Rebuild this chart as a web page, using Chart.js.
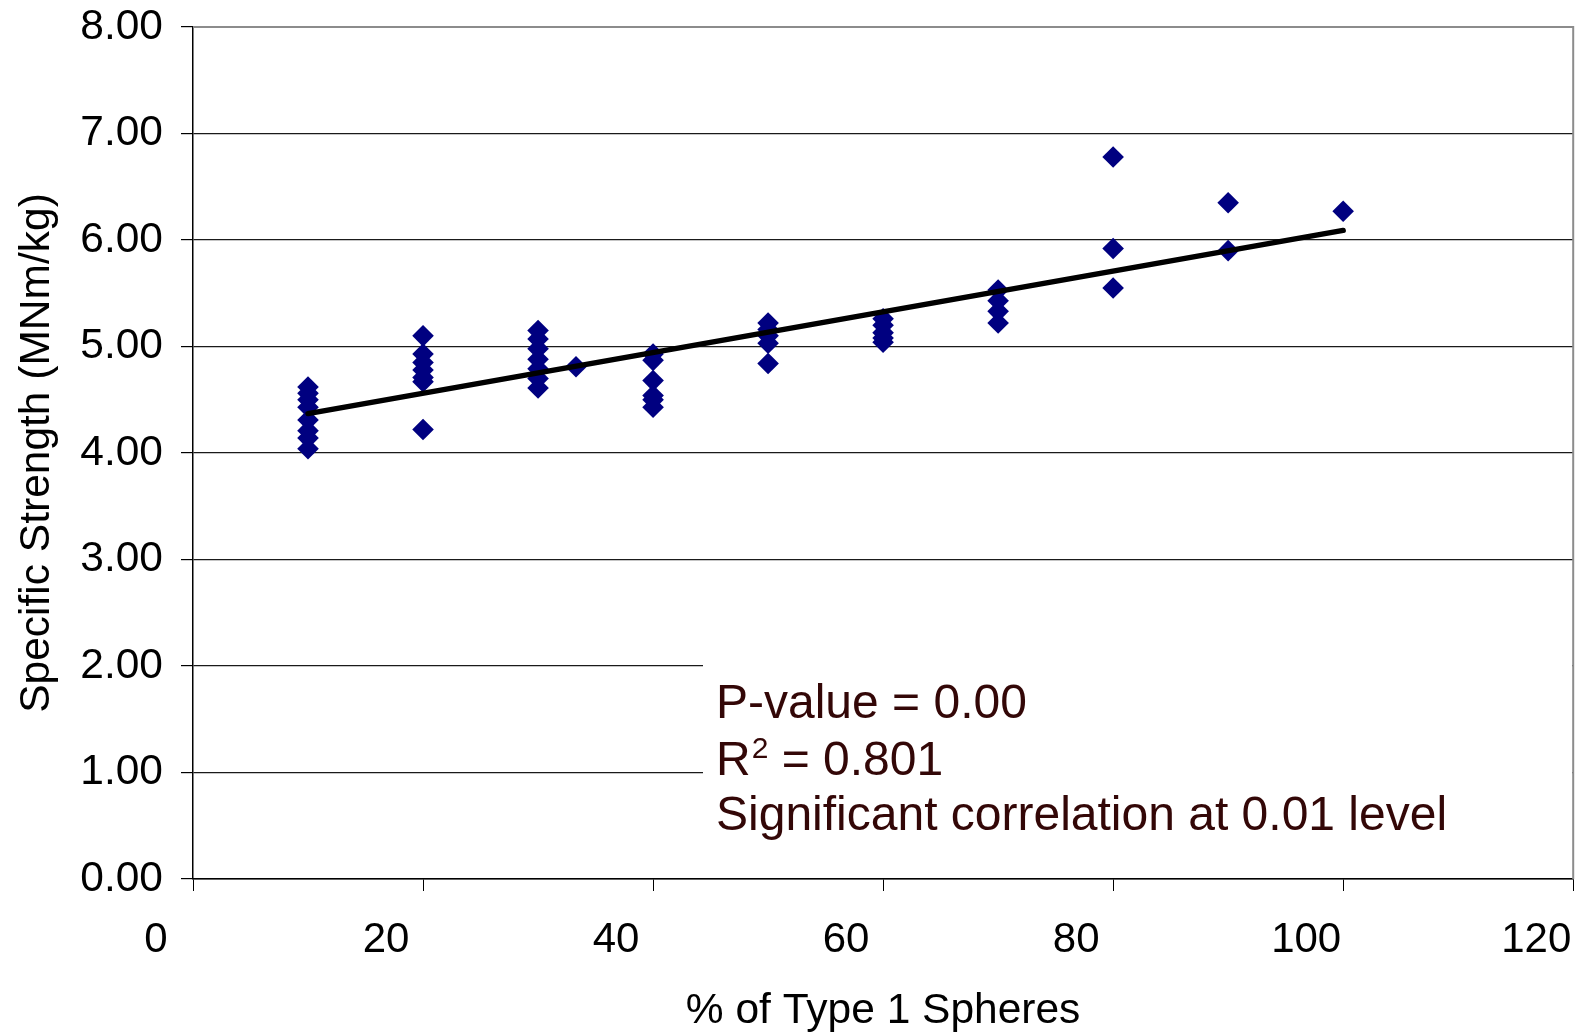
<!DOCTYPE html>
<html>
<head>
<meta charset="utf-8">
<title>Specific Strength vs % of Type 1 Spheres</title>
<script src="https://cdn.jsdelivr.net/npm/chart.js@4.4.1/dist/chart.umd.min.js"></script>
<style>
  html, body { margin: 0; padding: 0; background: #fff; overflow: hidden; }
  #wrap { width: 1584px; height: 1034px; position: relative; }
  #chart { display: block; }
</style>
</head>
<body>
<div id="wrap"><canvas id="chart"></canvas></div>
<script>
// % of type 1 spheres for each specimen, and its specific strength
const pctType1 = [
  10, 10, 10, 10, 10, 10, 10, 10,
  20, 20, 20, 20, 20, 20, 20,
  30, 30, 30, 30, 30, 30, 30,
  33.3,
  40, 40, 40, 40, 40, 40,
  50, 50, 50, 50, 50,
  60, 60, 60, 60, 60,
  70, 70, 70, 70,
  80, 80, 80,
  90, 90,
  100
];
const strength = [
  4.62, 4.56, 4.50, 4.43, 4.31, 4.21, 4.14, 4.04,
  5.10, 4.93, 4.85, 4.78, 4.71, 4.67, 4.22,
  5.15, 5.07, 4.98, 4.88, 4.79, 4.70, 4.61,
  4.81,
  4.93, 4.87, 4.68, 4.54, 4.50, 4.43,
  5.22, 5.16, 5.10, 5.03, 4.84,
  5.26, 5.20, 5.13, 5.08, 5.04,
  5.53, 5.43, 5.33, 5.22,
  6.78, 5.92, 5.55,
  6.35, 5.90,
  6.27
];

// linear trend line end points
const trendX = [10, 100];
const trendY = [4.37, 6.09];

const xTicks = [0, 20, 40, 60, 80, 100, 120];
const yTicks = [0, 1, 2, 3, 4, 5, 6, 7, 8];

const statsLines = ['P-value = 0.00', 'R', 'Significant correlation at 0.01 level'];

const FONT = "'Liberation Sans', Arial, sans-serif";

// white box with the statistics, plus the grey frame on top / right
const statsBox = {
  id: 'statsBox',
  beforeDatasetsDraw(chart) {
    const { ctx, chartArea } = chart;
    ctx.save();
    ctx.fillStyle = '#fff';
    ctx.fillRect(703, 625, chartArea.right - 703 - 1, chartArea.bottom - 625 - 2);

    // plot frame
    ctx.strokeStyle = '#8c8c8c';
    ctx.lineWidth = 2;
    ctx.beginPath();
    ctx.moveTo(chartArea.left, chartArea.top);
    ctx.lineTo(chartArea.right, chartArea.top);
    ctx.lineTo(chartArea.right, chartArea.bottom);
    ctx.stroke();

    ctx.fillStyle = '#330707';
    ctx.textBaseline = 'alphabetic';
    ctx.textAlign = 'left';
    ctx.font = '48px ' + FONT;
    const x0 = 716;
    ctx.fillText(statsLines[0], x0, 718);

    // R² with a raised small 2
    ctx.fillText(statsLines[1], x0, 775);
    let w = ctx.measureText(statsLines[1]).width;
    ctx.font = '30px ' + FONT;
    ctx.fillText('2', x0 + w + 1, 758);
    w += ctx.measureText('2').width + 1;
    ctx.font = '48px ' + FONT;
    ctx.fillText(' = 0.801', x0 + w, 775);

    ctx.fillText(statsLines[2], x0, 830);
    ctx.restore();
  }
};

new Chart(document.getElementById('chart'), {
  type: 'scatter',
  data: {
    datasets: [
      {
        label: 'Specific strength',
        data: pctType1.map((x, i) => ({ x: x, y: strength[i] })),
        pointStyle: 'rectRot',
        pointRadius: 10.8,
        pointHoverRadius: 10.8,
        backgroundColor: '#000080',
        borderColor: '#000080',
        borderWidth: 0,
        order: 2
      },
      {
        type: 'line',
        label: 'Linear trend',
        data: trendX.map((x, i) => ({ x: x, y: trendY[i] })),
        borderColor: '#000',
        borderWidth: 5.5,
        borderCapStyle: 'round',
        pointRadius: 0,
        fill: false,
        order: 1
      }
    ]
  },
  options: {
    responsive: true,
    maintainAspectRatio: false,
    animation: false,
    layout: { padding: { top: 27, right: 0, left: 0, bottom: 0 } },
    plugins: {
      legend: { display: false },
      tooltip: { enabled: false }
    },
    scales: {
      x: {
        type: 'linear',
        min: 0,
        max: 120,
        afterBuildTicks: (scale) => { scale.ticks = xTicks.map(v => ({ value: v })); },
        afterFit: (scale) => {
          scale.height = 155;
          scale.paddingLeft = 0;
          scale.paddingRight = 0;
        },
        border: { color: '#000', width: 1.5 },
        grid: { drawOnChartArea: false, drawTicks: true, tickLength: 12, color: '#000' },
        ticks: {
          color: '#000',
          font: { family: FONT, size: 42 },
          padding: 24,
          labelOffset: -37,
          maxRotation: 0,
          autoSkip: false
        },
        title: {
          display: true,
          text: '% of Type 1 Spheres',
          color: '#000',
          font: { family: FONT, size: 42.5, lineHeight: 1.05 },
          padding: { top: 0, bottom: 0 }
        }
      },
      y: {
        type: 'linear',
        min: 0,
        max: 8,
        afterBuildTicks: (scale) => { scale.ticks = yTicks.map(v => ({ value: v })); },
        afterFit: (scale) => {
          scale.width = 193;
          scale.paddingTop = 0;
          scale.paddingBottom = 0;
        },
        border: { color: '#000', width: 1.5 },
        grid: {
          color: (c) => (c.tick && c.tick.value === 8 ? 'rgba(0,0,0,0)' : '#1a1a1a'),
          tickColor: '#000',
          lineWidth: 1.2,
          tickLength: 12
        },
        ticks: {
          color: '#000',
          font: { family: FONT, size: 42.5 },
          padding: 18,
          callback: (v) => Number(v).toFixed(2)
        },
        title: {
          display: true,
          text: 'Specific Strength (MNm/kg)',
          color: '#000',
          font: { family: FONT, size: 42.5 },
          padding: { top: 12, bottom: 0 }
        }
      }
    }
  },
  plugins: [statsBox]
});
</script>
</body>
</html>
